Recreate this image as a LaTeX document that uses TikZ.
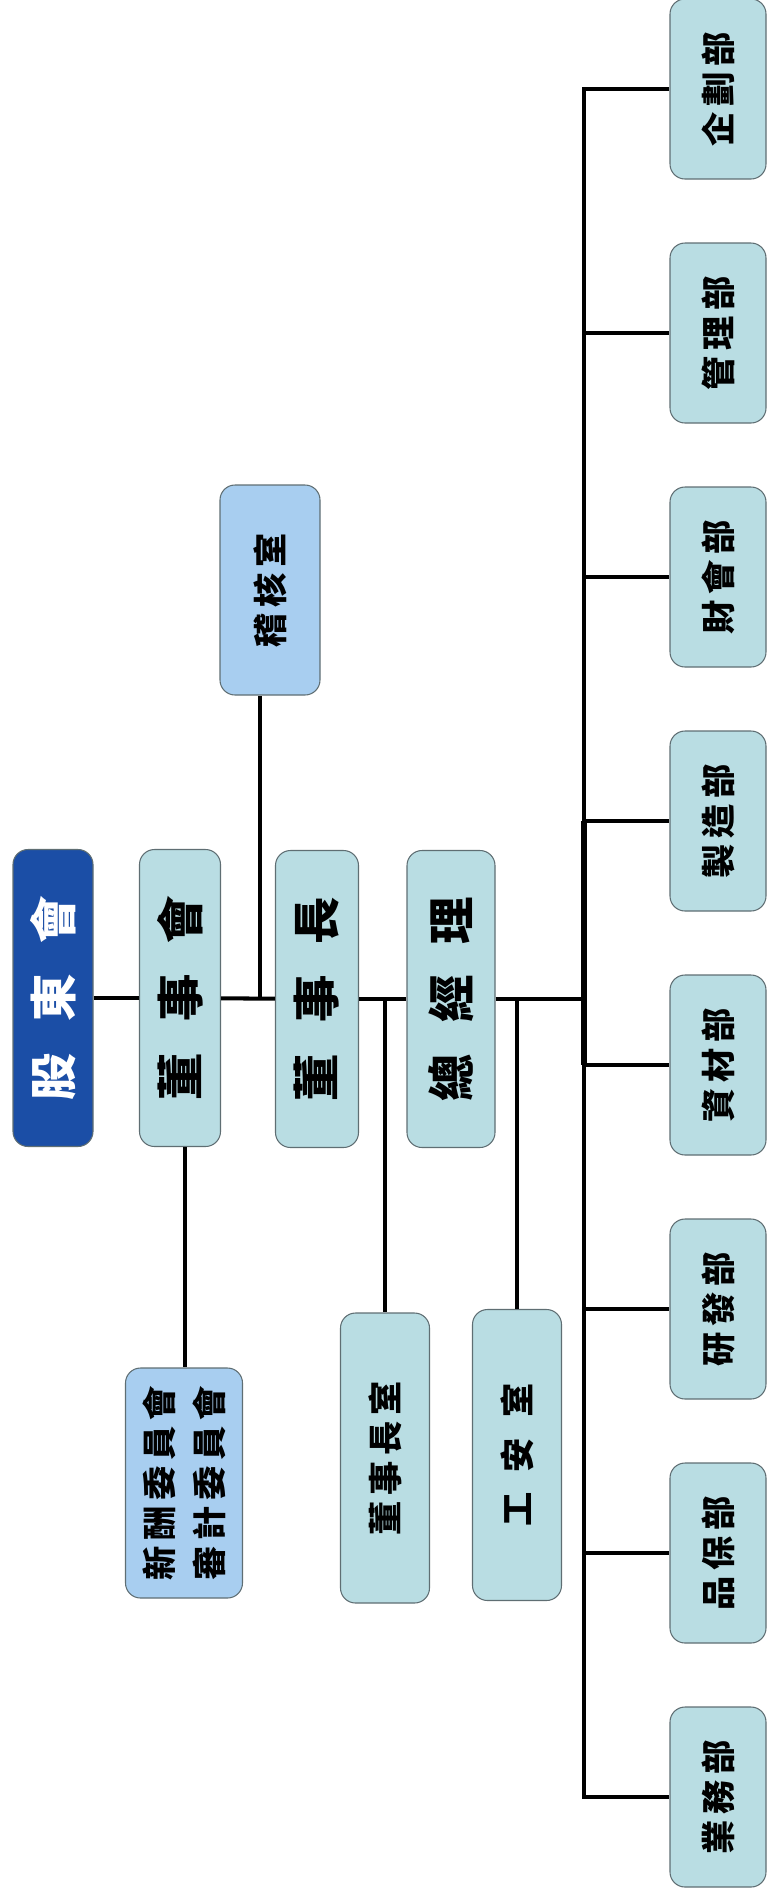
\documentclass[tikz,border=0pt]{standalone}
\usepackage{fontspec}
\newfontfamily\cjk{Noto Sans CJK TC}
\usetikzlibrary{calc}
\definecolor{tealfill}{HTML}{B9DDE3}
\definecolor{skyfill}{HTML}{A8CEF0}
\definecolor{navyfill}{HTML}{1B4EA6}
\definecolor{boxline}{HTML}{5F6E73}
\tikzset{
  box/.style 2 args={rotate=90, draw=boxline, line width=0.6pt, rounded corners=0.3cm,
    minimum width=#1*0.02cm, minimum height=#2*0.02cm, inner sep=0pt, align=center,
    font=\cjk\bfseries\fontsize{19.5}{28.5}\selectfont},
  tealbox/.style={fill=tealfill},
  skybox/.style={fill=skyfill},
  bigtext/.style={font=\cjk\bfseries\fontsize{27}{34}\selectfont},
  link/.style={line width=2.3pt},
}

\begin{document}
\begin{tikzpicture}[x=0.02cm, y=-0.02cm]
\useasboundingbox (0,0) rectangle (767,1901);
% main chain
\node[box={297}{80}, fill=navyfill, text=white, bigtext] (gdh) at (53,998) {股\hspace{0.62cm}東\hspace{0.62cm}會};
\node[box={297}{81}, tealbox, bigtext] (dsh) at (180,998) {董\hspace{0.62cm}事\hspace{0.62cm}會};
\node[box={297}{83}, tealbox, bigtext] (dsz) at (317,999) {董\hspace{0.62cm}事\hspace{0.62cm}長};
\node[box={297}{88}, tealbox, bigtext] (zjl) at (451,999) {總\hspace{0.62cm}經\hspace{0.62cm}理};
% staff units
\node[box={210}{100}, skybox] (jhs) at (270,590) {稽\,核\,室};
\node[box={230}{117}, skybox] (xcw) at (184,1483) {新\,酬\,委\,員\,會\\審\,計\,委\,員\,會};
\node[box={290}{89}, tealbox] (dszs) at (385,1458) {董\,事\,長\,室};
\node[box={291}{89}, tealbox] (gas) at (517,1455) {工\hspace{0.4cm}安\hspace{0.4cm}室};
% departments
\foreach \name [count=\i] in {企\,劃\,部,管\,理\,部,財\,會\,部,製\,造\,部,資\,材\,部,研\,發\,部,品\,保\,部,業\,務\,部}
  \node[box={180}{96}, tealbox] (d\i) at (718,{89+244*(\i-1)}) {\name};

\coordinate (tk) at (584,999);
\draw[link] (gdh) -- (dsh);
\draw[link] (dsh) -- (dsz);
\draw[link] (dsz) -- (zjl);
\draw[link] (zjl) -- (tk);
\coordinate (bjh) at (260,999);
\draw[link] (bjh) -- (bjh |- jhs.west);
\coordinate (bxc) at (185,0);
\draw[link] (bxc |- dsh.west) -- (bxc |- xcw.east);
\coordinate (bds) at (385,999);
\draw[link] (bds) -- (bds |- dszs.east);
\coordinate (bga) at (517,999);
\draw[link] (bga) -- (bga |- gas.east);
% trunk
\draw[link] (d1) -| (tk) |- (d8);
\draw[line width=3.6pt] (tk |- d4) -- (tk |- d5);
\foreach \i in {2,...,7}
  \draw[link] (tk |- d\i) -- (d\i);
\end{tikzpicture}
\end{document}
